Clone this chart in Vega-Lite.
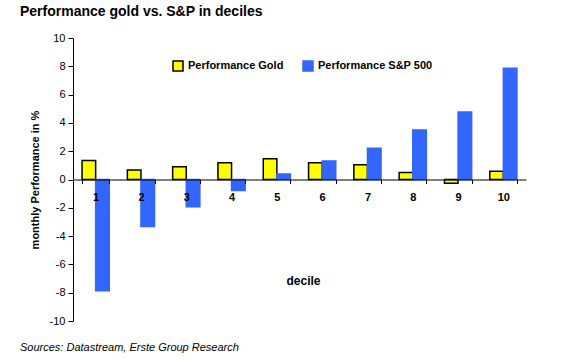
{
  "$schema": "https://vega.github.io/schema/vega-lite/v6.json",
  "background": "white",
  "autosize": {"type": "pad"},
  "padding": {"left": 20, "top": 5, "right": 5, "bottom": 5},
  "config": {"font": "Liberation Sans", "view": {"stroke": null}},
  "title": {"text": "Performance gold vs. S&P in deciles", "anchor": "start", "frame": "group", "dx": -53, "fontSize": 14, "fontWeight": "bold", "color": "black", "offset": 13},
  "vconcat": [
    {
      "title": {"text": "Sources: Datastream, Erste Group Research", "orient": "bottom", "anchor": "start", "frame": "group", "dx": -53, "fontSize": 11, "fontStyle": "italic", "fontWeight": "normal", "color": "black", "offset": 16},
      "width": 453,
      "height": 283,
      "data": {"values": [
        {"decile": "1", "series": "Performance Gold", "value": 1.35},
        {"decile": "2", "series": "Performance Gold", "value": 0.67},
        {"decile": "3", "series": "Performance Gold", "value": 0.9},
        {"decile": "4", "series": "Performance Gold", "value": 1.19},
        {"decile": "5", "series": "Performance Gold", "value": 1.47},
        {"decile": "6", "series": "Performance Gold", "value": 1.19},
        {"decile": "7", "series": "Performance Gold", "value": 1.05},
        {"decile": "8", "series": "Performance Gold", "value": 0.5},
        {"decile": "9", "series": "Performance Gold", "value": -0.27},
        {"decile": "10", "series": "Performance Gold", "value": 0.58},
        {"decile": "1", "series": "Performance S&P 500", "value": -7.86},
        {"decile": "2", "series": "Performance S&P 500", "value": -3.33},
        {"decile": "3", "series": "Performance S&P 500", "value": -1.92},
        {"decile": "4", "series": "Performance S&P 500", "value": -0.77},
        {"decile": "5", "series": "Performance S&P 500", "value": 0.39},
        {"decile": "6", "series": "Performance S&P 500", "value": 1.31},
        {"decile": "7", "series": "Performance S&P 500", "value": 2.2},
        {"decile": "8", "series": "Performance S&P 500", "value": 3.5},
        {"decile": "9", "series": "Performance S&P 500", "value": 4.77},
        {"decile": "10", "series": "Performance S&P 500", "value": 7.86}
      ]},
      "mark": {"type": "bar", "strokeWidth": 1.5},
      "encoding": {
        "x": {"field": "decile", "type": "ordinal", "sort": ["1","2","3","4","5","6","7","8","9","10"],
          "scale": {"paddingInner": 0.4, "paddingOuter": 0.2},
          "axis": {"title": "decile", "titleX": 230, "titleY": 101, "titleFontSize": 12, "titleFontWeight": "bold", "titleColor": "black", "titleBaseline": "middle",
            "offset": -141.5, "zindex": 1, "labelAngle": 0, "labelFontWeight": "bold", "labelFontSize": 11, "labelColor": "black", "labelPadding": 8,
            "domainColor": "black", "tickColor": "black", "tickSize": 4, "tickBand": "extent"}},
        "xOffset": {"field": "series", "type": "nominal"},
        "y": {"field": "value", "type": "quantitative",
          "scale": {"domain": [-10, 10], "nice": false, "zero": false},
          "axis": {"title": "monthly Performance in %", "titleFontSize": 11, "titleFontWeight": "bold", "titleColor": "black", "titlePadding": 9,
            "values": [-10,-8,-6,-4,-2,0,2,4,6,8,10], "labelExpr": "replace(datum.label, '\u2212', '-')", "grid": false, "labelFontSize": 11, "labelColor": "black",
            "domainColor": "black", "tickColor": "black", "tickSize": 5, "labelPadding": 3}},
        "color": {"field": "series", "type": "nominal",
          "scale": {"domain": ["Performance Gold", "Performance S&P 500"], "range": ["#ffff00", "#3366ff"]},
          "legend": {"orient": "none", "legendX": 99, "legendY": 22, "direction": "horizontal", "title": null,
            "symbolType": "square", "symbolSize": 100, "symbolStrokeWidth": 1.5, "labelFontSize": 11, "labelFontWeight": "bold", "labelColor": "black", "columnPadding": 16, "labelOffset": 4}},
        "stroke": {"field": "series", "type": "nominal",
          "scale": {"domain": ["Performance Gold", "Performance S&P 500"], "range": ["black", "#3366ff"]}}
      }
    }
  ]
}
